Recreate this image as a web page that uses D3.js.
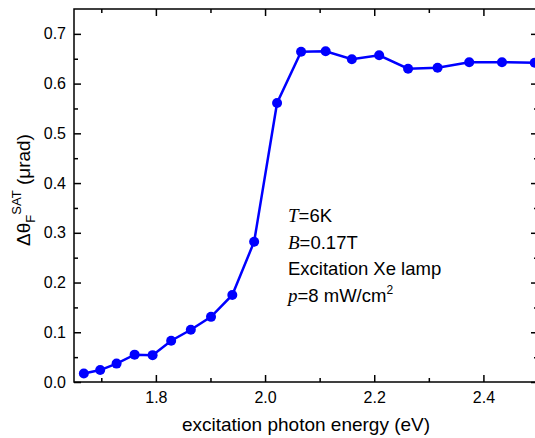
<!DOCTYPE html>
<html>
<head>
<meta charset="utf-8">
<script src="https://cdn.jsdelivr.net/npm/d3@7"></script>
<style>
  body { margin: 0; background: #fff; }
  text { font-family: "Liberation Sans", Arial, sans-serif; fill: #000; }
</style>
</head>
<body>
<svg id="chart" width="535" height="438"></svg>
<script>
// photon energy (eV) and saturated Faraday rotation (urad)
var energy = [1.668, 1.698, 1.728, 1.761, 1.794, 1.828, 1.864, 1.901, 1.940, 1.980,
              2.022, 2.066, 2.111, 2.159, 2.209, 2.262, 2.316, 2.374, 2.434, 2.494]
var rotation = [0.017, 0.024, 0.037, 0.055, 0.054, 0.083, 0.105, 0.131, 0.175, 0.282,
                0.561, 0.664, 0.665, 0.649, 0.657, 0.630, 0.632, 0.643, 0.643, 0.642]
var xTicks = [1.8, 2.0, 2.2, 2.4]
var xMinor = [1.7, 1.9, 2.1, 2.3, 2.5]
var yTicks = [0.0, 0.1, 0.2, 0.3, 0.4, 0.5, 0.6, 0.7]
var yMinor = [0.05, 0.15, 0.25, 0.35, 0.45, 0.55, 0.65]

var svg = d3.select('#chart')
var mLeft = 74, mRight = 538, mTop = 9, mBottom = 382

var x = d3.scaleLinear().domain([1.65, 2.5]).range([mLeft, mRight])
var y = d3.scaleLinear().domain([0, 0.75]).range([mBottom, mTop])

// frame
svg.append('rect')
    .attr('x', mLeft).attr('y', mTop)
    .attr('width', mRight - mLeft).attr('height', mBottom - mTop)
    .attr('fill', 'none').attr('stroke', '#000').attr('stroke-width', 1.5)

var fmt = d3.format('.1f')

// major + minor ticks, all pointing inward
function ticks(axisFn, scale, vals, size, pos, labels) {
    var g = svg.append('g').attr('transform', pos)
    g.call(axisFn(scale).tickValues(vals).tickSize(-size).tickFormat(labels ? fmt : ''))
    g.select('.domain').remove()
    g.selectAll('line').attr('stroke', '#000').attr('stroke-width', 1.5)
    return g
}

var gx = ticks(d3.axisBottom, x, xTicks, 7, 'translate(0,' + mBottom + ')', true)
gx.selectAll('text').attr('y', 10).attr('dy', '0.71em')
    .style('font-size', '16px').style('font-family', '"Liberation Sans", Arial, sans-serif')
ticks(d3.axisBottom, x, xMinor, 4, 'translate(0,' + mBottom + ')', false)
ticks(d3.axisTop, x, xTicks, 7, 'translate(0,' + mTop + ')', false)
ticks(d3.axisTop, x, xMinor, 4, 'translate(0,' + mTop + ')', false)

var gy = ticks(d3.axisLeft, y, yTicks, 7, 'translate(' + mLeft + ',0)', true)
gy.selectAll('text').attr('x', -8)
    .style('font-size', '16px').style('font-family', '"Liberation Sans", Arial, sans-serif')
ticks(d3.axisLeft, y, yMinor, 4, 'translate(' + mLeft + ',0)', false)
ticks(d3.axisRight, y, yTicks, 7, 'translate(' + mRight + ',0)', false)
ticks(d3.axisRight, y, yMinor, 4, 'translate(' + mRight + ',0)', false)

// data
var pts = energy.map(function(e, i) { return [e, rotation[i]] })
var line = d3.line().x(function(d) { return x(d[0]) }).y(function(d) { return y(d[1]) })

svg.append('path')
    .datum(pts)
    .attr('d', line)
    .attr('fill', 'none')
    .attr('stroke', '#0000ff')
    .attr('stroke-width', 2.5)

svg.selectAll('circle.pt')
    .data(pts)
    .enter()
    .append('circle')
    .attr('class', 'pt')
    .attr('cx', function(d) { return x(d[0]) })
    .attr('cy', function(d) { return y(d[1]) })
    .attr('r', 5)
    .attr('fill', '#0000ff')

// axis titles
svg.append('text')
    .attr('x', 306).attr('y', 431)
    .attr('text-anchor', 'middle')
    .style('font-size', '19px')
    .text('excitation photon energy (eV)')

var yl = svg.append('text')
    .attr('transform', 'translate(30,' + 190 + ') rotate(-90)')
    .attr('text-anchor', 'middle')
    .style('font-size', '19px')
yl.append('tspan').text('\u0394\u03b8')
yl.append('tspan').attr('dy', 5).style('font-size', '13px').text('F')
yl.append('tspan').attr('dy', -14).style('font-size', '13px').text('SAT')
yl.append('tspan').attr('dy', 9).text(' (\u03bcrad)')

// annotation
var ann = [
    ['T', '=6K'],
    ['B', '=0.17T'],
    ['', 'Excitation Xe lamp'],
    ['p', '=8 mW/cm']
]
var annY = [222, 249, 275, 302]
ann.forEach(function(a, i) {
    var t = svg.append('text').attr('x', 288).attr('y', annY[i]).style('font-size', '18.5px')
    if (a[0]) {
        t.append('tspan').style('font-family', '"Liberation Serif", "Times New Roman", serif')
            .style('font-style', 'italic').style('font-size', '19px').text(a[0])
    }
    t.append('tspan').text(a[1])
    if (i == 3) {
        t.append('tspan').attr('dy', -8).style('font-size', '12px').text('2')
    }
})
</script>
</body>
</html>
